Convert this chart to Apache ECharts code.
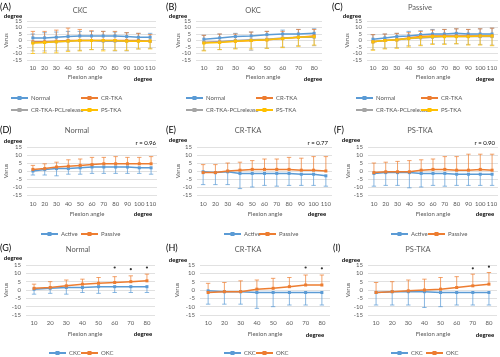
<!DOCTYPE html>
<html><head><meta charset="utf-8">
<script src="https://cdn.jsdelivr.net/npm/echarts@6/dist/echarts.min.js"></script>
<style>html,body{margin:0;padding:0;background:#fff}#c{width:500px;height:357px}</style>
</head><body><div id="c"></div>
<script>
// ---------- categories ----------
const angles11 = ['10','20','30','40','50','60','70','80','90','100','110'];
const angles8 = ['10','20','30','40','50','60','70','80'];
const yMin = -15, yMax = 15, yStep = 5;

// ---------- (A) CKC ----------
const aNormal   = [2, 2, 2.5, 3, 3.5, 3.5, 3.5, 3.5, 3, 2.5, 2.5];
const aNormalHi = [5, 6, 6.5, 7, 7, 7, 7, 6.5, 6, 5.5, 5.5];
const aCR       = [-1, -1, -0.5, 0, 0, 0, 0, 0, 0, 0, -0.5];
const aCRHi     = [7, 7, 8, 9.5, 8.5, 7.5, 7, 7, 6, 5.5, 4.5];
const aPCL      = [-1.5, -1.5, -1, -0.5, 0, 0, -0.5, -0.5, -0.5, -0.5, -0.5];
const aPCLLo    = [-8, -8, -8, -7.5, -7.5, -7, -7, -8, -8, -6.5, -6];
const aPS       = [-2, -1.5, -1, -0.5, 0, 0, 0, 0, -0.5, -0.5, -0.5];
const aPSLo     = [-10, -9.5, -9.5, -8.5, -8, -7, -8, -7.5, -7.5, -6.5, -6.5];

// ---------- (B) OKC ----------
const bNormal   = [1, 2, 3, 3.5, 4.5, 5, 5, 5.5];
const bNormalHi = [4, 5, 5.5, 6.5, 7, 8, 8.5, 9];
const bCR       = [-1.5, -1, -0.5, 0, 0.5, 1.5, 2.5, 3.5];
const bCRHi     = [4, 5, 5, 6.5, 7, 7, 8.5, 8.5];
const bPCL      = [-1.5, -1, 0, 0.5, 1, 2, 2.5, 2.5];
const bPCLLo    = [-7.5, -7, -6, -7.5, -6, -5, -4, -4];
const bPS       = [-2, -1.5, -0.5, 0, 0.5, 1.5, 2.5, 3];
const bPSLo     = [-8, -7, -6.5, -6.5, -6, -5.5, -4.5, -3.5];

// ---------- (C) Passive ----------
const cNormal   = [1, 2, 3, 3.5, 4.5, 5, 5, 5.5, 5, 5, 5];
const cNormalHi = [4.5, 5, 5.5, 7, 7.5, 8.5, 8.5, 9, 8.5, 9, 9.5];
const cCR       = [-1, 0, 0.5, 2, 3, 3.5, 3.5, 3.5, 3.5, 3.5, 3.5];
const cCRHi     = [4.5, 5, 5.5, 6, 7, 8, 8.5, 9, 8.5, 9, 9.5];
const cPCL      = [-1, 0, 0.5, 1.5, 2, 2.5, 3, 3, 3, 3, 3];
const cPCLLo    = [-7, -6, -5.5, -4, -3.5, -2.5, -2.5, -2.5, -3, -3, -3.5];
const cPS       = [-1, 0, 0.5, 1.5, 2.5, 3, 3, 3, 3, 3.5, 3.5];
const cPSLo     = [-7.5, -6.5, -6, -5, -4, -3, -3, -2.5, -3.5, -3.5, -4];

// ---------- (D) Normal: Active / Passive ----------
const dActive    = [0, 1, 1.5, 1.5, 2, 2.5, 2.5, 2.5, 2.5, 2, 2];
const dActiveLo  = [-2.5, -2.5, -3, -2, -2, -1.5, -1.5, -1.5, -1.5, -1.5, -2];
const dPassive   = [1, 1.5, 2.5, 3, 3.5, 4, 4.5, 4.5, 4.5, 4.5, 4.5];
const dPassiveHi = [3.5, 4.5, 5.5, 7, 7.5, 8.5, 8.5, 9, 8.5, 8.5, 9];
const dR = 'r = 0.96';

// ---------- (E) CR-TKA: Active / Passive ----------
const eActive    = [-0.5, -1, -0.5, -1.5, -1.5, -1.5, -1.5, -1.5, -2, -2, -3];
const eActiveLo  = [-8.5, -8.5, -8.5, -11, -10, -9, -9.5, -9, -9, -9, -9.5];
const ePassive   = [-1, -1, 0, 0.5, 1, 1, 1, 1, 0.5, 0.5, 0];
const ePassiveHi = [4, 4, 5, 5.5, 6.5, 7.5, 7.5, 8.5, 8, 9, 9];
const eR = 'r = 0.77';

// ---------- (F) PS-TKA: Active / Passive ----------
const fActive    = [-1.5, -1, -1, -1, -1.5, -1.5, -1.5, -2, -2, -2, -2];
const fActiveLo  = [-9.5, -9, -9, -10.5, -10, -9, -9.5, -9, -9, -9, -9];
const fPassive   = [-1, -0.5, -0.5, -0.5, 0.5, 1, 1, 0.5, 0.5, 1, 0.5];
const fPassiveHi = [5, 5.5, 6, 6.5, 7, 7.5, 9, 9, 10.5, 10.5, 10.5];
const fR = 'r = 0.90';

// ---------- (G) Normal: CKC / OKC ----------
const gCKC   = [0.5, 1, 1.5, 1.5, 2, 2, 2, 2];
const gCKCLo = [-2.5, -2, -2.5, -1.5, -2, -1.5, -1.5, -1.5];
const gOKC   = [1, 1.5, 2.5, 3.5, 4, 4.5, 5, 5.5];
const gOKCHi = [3.5, 5, 6, 6.5, 7.5, 8, 8.5, 9.5];
const gStars = [['60', 13.5], ['70', 12.5], ['80', 13.5]];

// ---------- (H) CR-TKA: CKC / OKC ----------
const hCKC   = [-0.5, -1, -1, -1.5, -1.5, -1.5, -1.5, -1.5];
const hCKCLo = [-8.5, -8.5, -8.5, -11, -10, -9, -9, -9];
const hOKC   = [-1.5, -1, -1, 0.5, 1, 2, 3, 3];
const hOKCHi = [4, 4.5, 5.5, 6, 7, 7.5, 9, 9];
const hStars = [['70', 13.5], ['80', 13]];

// ---------- (I) PS-TKA: CKC / OKC ----------
const iCKC   = [-1.5, -1, -1, -1, -1.5, -1.5, -1.5, -1.5];
const iCKCLo = [-9, -9, -9, -10.5, -10, -9, -9, -9];
const iOKC   = [-1.5, -1, -0.5, 0, 0.5, 1.5, 2.5, 3.5];
const iOKCHi = [4.5, 5, 6, 6.5, 7.5, 8, 9.5, 10.5];
const iStars = [['70', 13], ['80', 14]];

// ---------- styling / layout ----------
const COL = {blue:'#5B9BD5', orange:'#ED7D31', grey:'#A5A5A5', yellow:'#FFC000'};
const FONT = 'Lato';
const TXT = '#595959';
const FS = 6;

const panels = [
 {letter:'(A)', ly:7, title:'CKC', cats:angles11, box:[27,21,156,60], lx:0, tx:80, ty:11, degTop:[13,16], varusX:6, flex:[85,77], degBot:[143,79], xlab:5,
  lines:[['Normal',COL.blue,aNormal,aNormalHi],['CR-TKA',COL.orange,aCR,aCRHi],['CR-TKA-PCLrelease',COL.grey,aPCL,aPCLLo],['PS-TKA',COL.yellow,aPS,aPSLo]],
  leg:[['Normal',10,98],['CR-TKA',80,98],['CR-TKA-PCLrelease',10,110],['PS-TKA',80,110]]},
 {letter:'(B)', ly:7, title:'OKC', cats:angles8, box:[196,21,322,60], lx:166, tx:253, ty:11, degTop:[178,16], varusX:178, flex:[263,77], degBot:[313,79], xlab:5,
  lines:[['Normal',COL.blue,bNormal,bNormalHi],['CR-TKA',COL.orange,bCR,bCRHi],['CR-TKA-PCLrelease',COL.grey,bPCL,bPCLLo],['PS-TKA',COL.yellow,bPS,bPSLo]],
  leg:[['Normal',185,98],['CR-TKA',255,98],['CR-TKA-PCLrelease',185,110],['PS-TKA',255,110]]},
 {letter:'(C)', ly:7, title:'Passive', cats:angles11, box:[367,21,498,60], lx:332, tx:420, ty:8, degTop:[352,16], varusX:347, flex:[433,77], degBot:[485,79], xlab:5,
  lines:[['Normal',COL.blue,cNormal,cNormalHi],['CR-TKA',COL.orange,cCR,cCRHi],['CR-TKA-PCLrelease',COL.grey,cPCL,cPCLLo],['PS-TKA',COL.yellow,cPS,cPSLo]],
  leg:[['Normal',355,98],['CR-TKA',420,98],['CR-TKA-PCLrelease',355,110],['PS-TKA',420,110]]},
 {letter:'(D)', ly:130, title:'Normal', cats:angles11, box:[27,147,157,195], lx:0, tx:77, ty:131, degTop:[13,141], varusX:6, flex:[87,214], degBot:[143,214], r:[dR,156,143], xlab:6,
  lines:[['Active',COL.blue,dActive,dActiveLo],['Passive',COL.orange,dPassive,dPassiveHi]],
  leg:[['Active',40,234],['Passive',80,234]]},
 {letter:'(E)', ly:130, title:'CR-TKA', cats:angles11, box:[197,147,332,195], lx:166, tx:248, ty:131, degTop:[178,140], varusX:178, flex:[265,214], degBot:[317,214], r:[eR,328,143], xlab:6,
  lines:[['Active',COL.blue,eActive,eActiveLo],['Passive',COL.orange,ePassive,ePassiveHi]],
  leg:[['Active',223,234],['Passive',258,234]]},
 {letter:'(F)', ly:130, title:'PS-TKA', cats:angles11, box:[368,147,498,195], lx:334, tx:420, ty:131, degTop:[351,140], varusX:348, flex:[433,214], degBot:[485,214], r:[fR,495,143], xlab:6,
  lines:[['Active',COL.blue,fActive,fActiveLo],['Passive',COL.orange,fPassive,fPassiveHi]],
  leg:[['Active',390,234],['Passive',427,234]]},
 {letter:'(G)', ly:248, title:'Normal', cats:angles8, box:[26,265,155,315], lx:0, tx:78, ty:250, degTop:[13,258], varusX:6, flex:[85,334], degBot:[143,334], stars:gStars, xlab:5,
  lines:[['CKC',COL.blue,gCKC,gCKCLo],['OKC',COL.orange,gOKC,gOKCHi]],
  leg:[['CKC',48,353],['OKC',80,353]]},
 {letter:'(H)', ly:248, title:'CR-TKA', cats:angles8, box:[200,265,330,315], lx:166, tx:248, ty:250, degTop:[178,260], varusX:177, flex:[265,334], degBot:[315,335], stars:hStars, xlab:5,
  lines:[['CKC',COL.blue,hCKC,hCKCLo],['OKC',COL.orange,hOKC,hOKCHi]],
  leg:[['CKC',223,353],['OKC',255,353]]},
 {letter:'(I)', ly:248, title:'PS-TKA', cats:angles8, box:[368,265,497,315], lx:333, tx:418, ty:250, degTop:[351,260], varusX:348, flex:[433,334], degBot:[485,335], stars:iStars, xlab:5,
  lines:[['CKC',COL.blue,iCKC,iCKCLo],['OKC',COL.orange,iOKC,iOKCHi]],
  leg:[['CKC',390,353],['OKC',425,353]]}
];

function errRender(params, api) {
  const x = api.value(0), m = api.value(1), e = api.value(2);
  const p0 = api.coord([x, m]), p1 = api.coord([x, e]);
  const st = {stroke: api.visual('color'), lineWidth: 0.9, opacity: 0.8};
  return {type:'group', children:[
    {type:'line', shape:{x1:p0[0], y1:p0[1], x2:p1[0], y2:p1[1]}, style:st},
    {type:'line', shape:{x1:p1[0]-2.2, y1:p1[1], x2:p1[0]+2.2, y2:p1[1]}, style:st}
  ]};
}

const grid = [], xAxis = [], yAxis = [], series = [], legend = [], graphic = [];
const txt = (x, y, s, o) => ({type:'text', x:x, y:y, style:Object.assign({text:s, fill:TXT, font:FS + 'px ' + FONT, textAlign:'center', textVerticalAlign:'middle'}, o || {})});

panels.forEach((p, i) => {
  const [l, t, r, b] = p.box;
  grid.push({left:l, top:t, width:r - l, height:b - t, containLabel:false, outerBoundsMode:'none'});
  xAxis.push({gridIndex:i, type:'category', data:p.cats, boundaryGap:true,
    axisLine:{show:false}, axisTick:{show:false},
    axisLabel:{color:TXT, fontSize:FS, fontFamily:FONT, margin:p.xlab, interval:0, hideOverlap:false}});
  yAxis.push({gridIndex:i, type:'value', min:yMin, max:yMax, interval:yStep,
    axisLine:{show:false}, axisTick:{show:false},
    axisLabel:{color:TXT, fontSize:FS, fontFamily:FONT, margin:5, hideOverlap:false, showMinLabel:true, showMaxLabel:true, lineHeight:6},
    splitLine:{lineStyle:{color:'#D9D9D9', width:0.8}}});
  p.lines.forEach(([name, color, vals, ends]) => {
    series.push({type:'custom', name:name + ' err', xAxisIndex:i, yAxisIndex:i, renderItem:errRender,
      itemStyle:{color:color}, encode:{x:0, y:[1, 2]}, clip:false, silent:true, z:2,
      data:vals.map((v, k) => [k, v, ends[k]])});
  });
  p.lines.forEach(([name, color, vals]) => {
    series.push({type:'line', name:name, xAxisIndex:i, yAxisIndex:i, data:vals, color:color,
      symbol:'rect', symbolSize:3, lineStyle:{width:1.5, color:color}, itemStyle:{color:color}, z:3});
  });
  if (p.stars) {
    series.push({type:'scatter', name:'sig', xAxisIndex:i, yAxisIndex:i, data:p.stars,
      symbol:'circle', symbolSize:2.2, itemStyle:{color:'#000'}, z:4});
  }
  p.leg.forEach(([name, x, y]) => {
    legend.push({data:[name], left:x, top:y - 3, itemWidth:17, itemHeight:5, itemGap:2,
      padding:0, selectedMode:false,
      textStyle:{color:TXT, fontSize:FS, fontFamily:FONT, padding:[0,0,0,-2]}});
  });
  graphic.push(txt(p.lx, p.ly, p.letter, {font:'9px ' + FONT, fill:'#000', textAlign:'left'}));
  graphic.push(txt(p.tx, p.ty, p.title, {font:'7.5px ' + FONT}));
  graphic.push(txt(p.degTop[0], p.degTop[1], 'degree', {font:'bold ' + FS + 'px ' + FONT, fill:'#000'}));
  graphic.push(txt(p.degBot[0], p.degBot[1], 'degree', {font:'bold ' + FS + 'px ' + FONT, fill:'#000'}));
  graphic.push(txt(p.flex[0], p.flex[1], 'Flexion angle'));
  graphic.push({type:'text', x:p.varusX, y:(t + b) / 2, rotation:Math.PI / 2,
    style:{text:'Varus', fill:TXT, font:FS + 'px ' + FONT, textAlign:'center', textVerticalAlign:'middle'}});
  if (p.r) graphic.push(txt(p.r[1], p.r[2], p.r[0], {fill:'#000', textAlign:'right'}));
});

const chart = echarts.init(document.getElementById('c'), null, {renderer:'canvas'});
chart.setOption({animation:false, backgroundColor:'#fff', grid, xAxis, yAxis, series, legend, graphic});
</script></body></html>
